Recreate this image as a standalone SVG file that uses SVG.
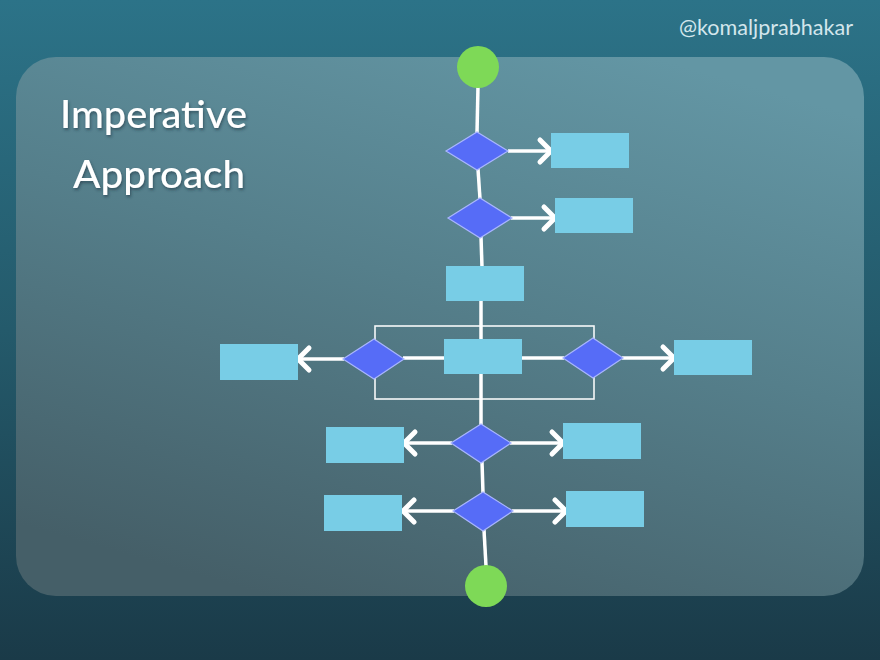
<svg xmlns="http://www.w3.org/2000/svg" width="880" height="660" viewBox="0 0 880 660">
  <defs>
    <linearGradient id="bg" x1="0" y1="0" x2="0" y2="1">
      <stop offset="0" stop-color="#2c7388"/>
      <stop offset="0.5" stop-color="#245a6b"/>
      <stop offset="1" stop-color="#1a3a48"/>
    </linearGradient>
    <linearGradient id="card" x1="0.75" y1="0" x2="0.3" y2="1">
      <stop offset="0" stop-color="#6396a4"/>
      <stop offset="0.45" stop-color="#557f8b"/>
      <stop offset="1" stop-color="#455f68"/>
    </linearGradient>
    <filter id="shadow" x="-10%" y="-10%" width="120%" height="130%">
      <feDropShadow dx="1" dy="2" stdDeviation="1.5" flood-color="#1a3440" flood-opacity="0.6"/>
    </filter>
    <marker id="chev" markerUnits="userSpaceOnUse" markerWidth="30" markerHeight="30" viewBox="-16 -15 20 30" refX="0" refY="0" orient="auto">
      <path d="M-11,-11 L0,0 L-11,11" fill="none" stroke="#ffffff" stroke-width="5" stroke-linecap="round" stroke-linejoin="round"/>
    </marker>
    <style>
      .conn { stroke: #ffffff; stroke-width: 3.5; fill: none; }
      .arrow { stroke: #ffffff; stroke-width: 3.5; fill: none; marker-end: url(#chev); }
      .frame { stroke: #ffffff; stroke-width: 1.6; fill: none; opacity: 0.95; }
      .box { fill: #78cde6; }
      .dia { fill: #566cf7; stroke: #a9b6ff; stroke-width: 1.2; }
      .term { fill: #7ed957; }
      .title { font-family: "Lato", "Open Sans", sans-serif; font-weight: 500; font-size: 38px; fill: #ffffff; }
      .mark { font-family: "Lato", "Open Sans", sans-serif; font-size: 21px; fill: #d3e6ec; }
    </style>
  </defs>

  <rect x="0" y="0" width="880" height="660" fill="url(#bg)"/>
  <rect x="16" y="57" width="848" height="539" rx="40" ry="40" fill="url(#card)"/>

  <text class="mark" x="679" y="35" textLength="174" lengthAdjust="spacingAndGlyphs">@komaljprabhakar</text>
  <g filter="url(#shadow)">
    <text class="title" x="60" y="128" textLength="187" lengthAdjust="spacingAndGlyphs">Imperative</text>
    <text class="title" x="73" y="188" textLength="172" lengthAdjust="spacingAndGlyphs">Approach</text>
  </g>

  <g id="connectors">
    <rect class="frame" x="375" y="326" width="219" height="73"/>
    <line class="conn" x1="478" y1="86" x2="477" y2="133"/>
    <line class="conn" x1="478" y1="169" x2="480" y2="199"/>
    <line class="conn" x1="481" y1="237" x2="482" y2="267"/>
    <line class="conn" x1="481" y1="300" x2="481" y2="340"/>
    <line class="conn" x1="481" y1="373" x2="481" y2="425"/>
    <line class="conn" x1="482" y1="462" x2="483" y2="493"/>
    <line class="conn" x1="484" y1="530" x2="486" y2="566"/>
    <line class="conn" x1="403" y1="358" x2="445" y2="358"/>
    <line class="conn" x1="521" y1="358" x2="564" y2="358"/>
    <line class="arrow" x1="508" y1="151" x2="551" y2="151"/>
    <line class="arrow" x1="511" y1="218" x2="555" y2="218"/>
    <line class="arrow" x1="344" y1="359" x2="298" y2="359"/>
    <line class="arrow" x1="622" y1="358" x2="674" y2="358"/>
    <line class="arrow" x1="452" y1="443" x2="404" y2="443"/>
    <line class="arrow" x1="510" y1="443" x2="563" y2="443"/>
    <line class="arrow" x1="454" y1="511" x2="403" y2="511"/>
    <line class="arrow" x1="512" y1="511" x2="566" y2="511"/>
  </g>

  <g id="start"><circle class="term" cx="478" cy="67" r="21"/></g>
  <g id="decision1"><polygon class="dia" points="446,151 477,132 508,151 477,170"/></g>
  <g id="box1"><rect class="box" x="551" y="133" width="78" height="35"/></g>
  <g id="decision2"><polygon class="dia" points="448,218 480,198 512,218 480,238"/></g>
  <g id="box2"><rect class="box" x="555" y="198" width="78" height="35"/></g>
  <g id="box3"><rect class="box" x="446" y="266" width="78" height="35"/></g>
  <g id="decision3"><polygon class="dia" points="343,359 374,339 404,359 374,379"/></g>
  <g id="box-left"><rect class="box" x="220" y="344" width="78" height="36"/></g>
  <g id="box-middle"><rect class="box" x="444" y="339" width="78" height="35"/></g>
  <g id="decision4"><polygon class="dia" points="563,358 593,338 623,358 593,378"/></g>
  <g id="box-right"><rect class="box" x="674" y="340" width="78" height="35"/></g>
  <g id="decision5"><polygon class="dia" points="451,443 481,424 511,443 481,463"/></g>
  <g id="box5-left"><rect class="box" x="326" y="427" width="78" height="36"/></g>
  <g id="box5-right"><rect class="box" x="563" y="423" width="78" height="36"/></g>
  <g id="decision6"><polygon class="dia" points="453,511 483,492 513,511 483,531"/></g>
  <g id="box6-left"><rect class="box" x="324" y="495" width="78" height="36"/></g>
  <g id="box6-right"><rect class="box" x="566" y="491" width="78" height="36"/></g>
  <g id="end"><circle class="term" cx="486" cy="586" r="21"/></g>
</svg>
